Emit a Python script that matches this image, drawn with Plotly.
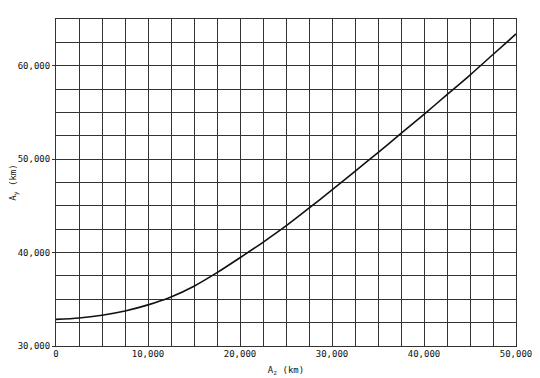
import plotly.graph_objects as go

az_km = [0, 2500, 5000, 7500, 10000, 12500, 15000, 17500, 20000, 22500, 25000,
         27500, 30000, 32500, 35000, 37500, 40000, 42500, 45000, 47500, 50000]
ay_km = [32850, 33000, 33300, 33750, 34400, 35250, 36400, 37850, 39450, 41100, 42850,
         44750, 46700, 48700, 50700, 52750, 54800, 56900, 59000, 61200, 63400]

x_ticks = [0, 10000, 20000, 30000, 40000, 50000]
x_labels = ["0", "10,000", "20,000", "30,000", "40,000", "50,000"]
y_ticks = [30000, 40000, 50000, 60000]
y_labels = ["30,000", "40,000", "50,000", "60,000"]

font = dict(family="DejaVu Sans Mono", size=9, color="#111")
grid = "#333333"

fig = go.Figure()
fig.add_trace(go.Scatter(x=az_km, y=ay_km, mode="lines",
                         line=dict(color="#111", width=1.6, shape="spline", smoothing=0.8),
                         showlegend=False, hoverinfo="skip"))

fig.update_layout(
    width=540, height=378,
    margin=dict(l=48, r=32, t=11, b=40),
    paper_bgcolor="white", plot_bgcolor="white",
    font=font,
    xaxis=dict(range=[0, 50000], tickvals=x_ticks, ticktext=x_labels,
               showgrid=True, gridcolor=grid, gridwidth=1.1,
               minor=dict(dtick=2500, tick0=0, showgrid=True, gridcolor=grid, gridwidth=1.1),
               showline=True, linecolor=grid, linewidth=1.1, mirror=True,
               zeroline=False, ticks="", tickfont=font, automargin=False,
               ticklabelstandoff=-1,
               title=dict(text="A<sub>z</sub> (km)", font=font, standoff=8)),
    yaxis=dict(range=[30000, 65000], tickvals=y_ticks, ticktext=y_labels,
               showgrid=True, gridcolor=grid, gridwidth=1.1,
               minor=dict(dtick=2500, tick0=0, showgrid=True, gridcolor=grid, gridwidth=1.1),
               showline=True, linecolor=grid, linewidth=1.1, mirror=True,
               zeroline=False, ticks="outside", ticklen=3, tickcolor=grid, tickfont=font,
               automargin=False,
               title=dict(text="A<sub>y</sub> (km)", font=font, standoff=6)),
)

fig.write_html("out.html")
